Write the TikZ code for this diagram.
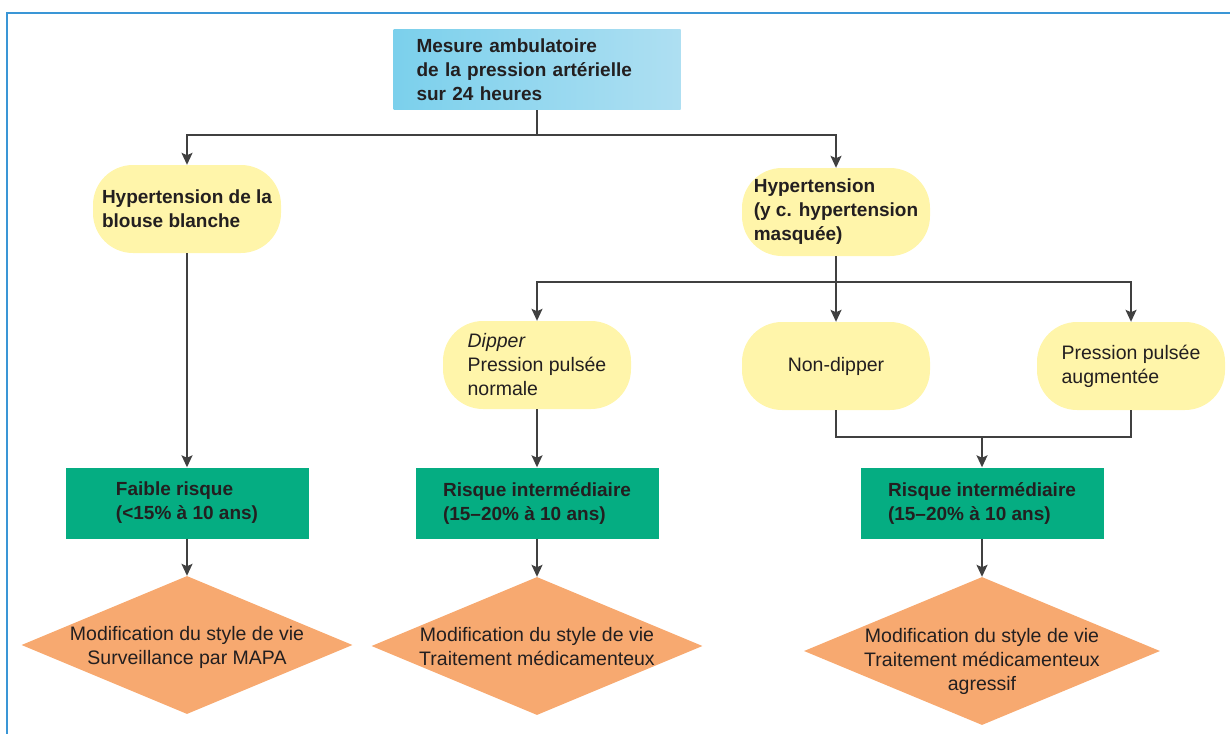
\documentclass[tikz,border=0pt]{standalone}
\usepackage{fontspec}
\setmainfont{Liberation Sans}
\usepackage{tikz}
\usetikzlibrary{shapes.geometric, arrows.meta}

\definecolor{mapablue}{HTML}{7BD0EC}
\definecolor{mapalight}{HTML}{AEDFF2}
\definecolor{frameblue}{HTML}{3A96D6}
\definecolor{stageyellow}{HTML}{FFF5AA}
\definecolor{riskgreen}{HTML}{05AD82}
\definecolor{actorange}{HTML}{F7A970}
\definecolor{linkgray}{HTML}{404040}
\definecolor{inkgray}{HTML}{231F20}

\newcommand{\actlines}[2][-8pt]{\raisebox{#1}[0pt][0pt]{\makebox[0pt]{\begin{tabular}{@{}c@{}}#2\end{tabular}}}}

\begin{document}
\begin{tikzpicture}[x=1pt, y=-1pt,
        mainbox/.style={rectangle, left color=mapablue, right color=mapalight, minimum width=287pt, minimum height=80pt, text width=241pt, inner xsep=23pt, align=left, font=\fontsize{19}{24}\selectfont\bfseries, text=inkgray},
        stagebox/.style={rectangle, rounded corners=40pt, fill=stageyellow, minimum width=188pt, minimum height=88pt, align=left, font=\fontsize{19.5}{24}\selectfont, text=inkgray},
        stagebold/.style={stagebox, font=\fontsize{19}{24}\selectfont\bfseries},
        riskbox/.style={rectangle, fill=riskgreen, minimum width=243pt, minimum height=71pt, align=left, font=\fontsize{19}{24}\selectfont\bfseries, text=inkgray},
        actbox/.style={diamond, fill=actorange, inner sep=0pt, minimum width=331pt, minimum height=138pt, font=\fontsize{19.5}{24}\selectfont, text=inkgray},
        link/.style={draw=linkgray, line width=1.8pt},
        arr/.style={link, -{Stealth[length=12pt, width=11pt, inset=2.5pt]}}
    ]

        % Frame
        \useasboundingbox (0,0) rectangle (1230,733);
        \draw[frameblue, line width=2pt] (7,740) -- (7,13) -- (1240,13);

        % Measurement
        \node[mainbox] (mapa) at (537,70) {Mesure ambulatoire\\de la pression artérielle\\sur 24 heures};

        % Diagnosis
        \node[stagebold] (wch) at (187,209) {Hypertension de la\\blouse blanche};
        \node[stagebold] (htn) at (836,212) {Hypertension\\(y c. hypertension\\masquée)};
        \coordinate (split1) at (537,135);
        \draw[link] (mapa.south) -- (split1);
        \draw[arr] (split1) -| (wch.north);
        \draw[arr] (split1) -| (htn.north);

        % Profiles
        \node[stagebox] (dip) at (537,365) {\textit{Dipper}\\Pression pulsée\\normale};
        \node[stagebox] (nondip) at (836,366) {Non-dipper};
        \node[stagebox] (pulse) at (1131,366) {Pression pulsée\\augmentée};
        \coordinate (split2) at (836,282);
        \draw[link] (htn.south) -- (split2);
        \draw[arr] (split2) -| (dip.north);
        \draw[arr] (split2) -- (nondip.north);
        \draw[arr] (split2) -| (pulse.north);

        % Risk
        \node[riskbox] (risk1) at (187,503) {Faible risque\\(<15\% à 10 ans)};
        \node[riskbox] (risk2) at (537,503) {Risque intermédiaire\\(15–20\% à 10 ans)};
        \node[riskbox] (risk3) at (982,503) {Risque intermédiaire\\(15–20\% à 10 ans)};
        \draw[arr] (wch.south) -- (risk1.north);
        \draw[arr] (dip.south) -- (risk2.north);
        \coordinate (merge) at (982,437);
        \draw[link] (nondip.south) |- (merge);
        \draw[link] (pulse.south) |- (merge);
        \draw[arr] (merge) -- (risk3.north);

        % Management
        \node[actbox] (act1) at (187,645) {\actlines{Modification du style de vie\\Surveillance par MAPA}};
        \node[actbox] (act2) at (537,646) {\actlines{Modification du style de vie\\Traitement médicamenteux}};
        \node[actbox, minimum width=356pt, minimum height=148pt] (act3) at (982,651) {\actlines[-16pt]{Modification du style de vie\\Traitement médicamenteux\\agressif}};
        \draw[arr] (risk1.south) -- (act1.north);
        \draw[arr] (risk2.south) -- (act2.north);
        \draw[arr] (risk3.south) -- (act3.north);

    \end{tikzpicture}
\end{document}
